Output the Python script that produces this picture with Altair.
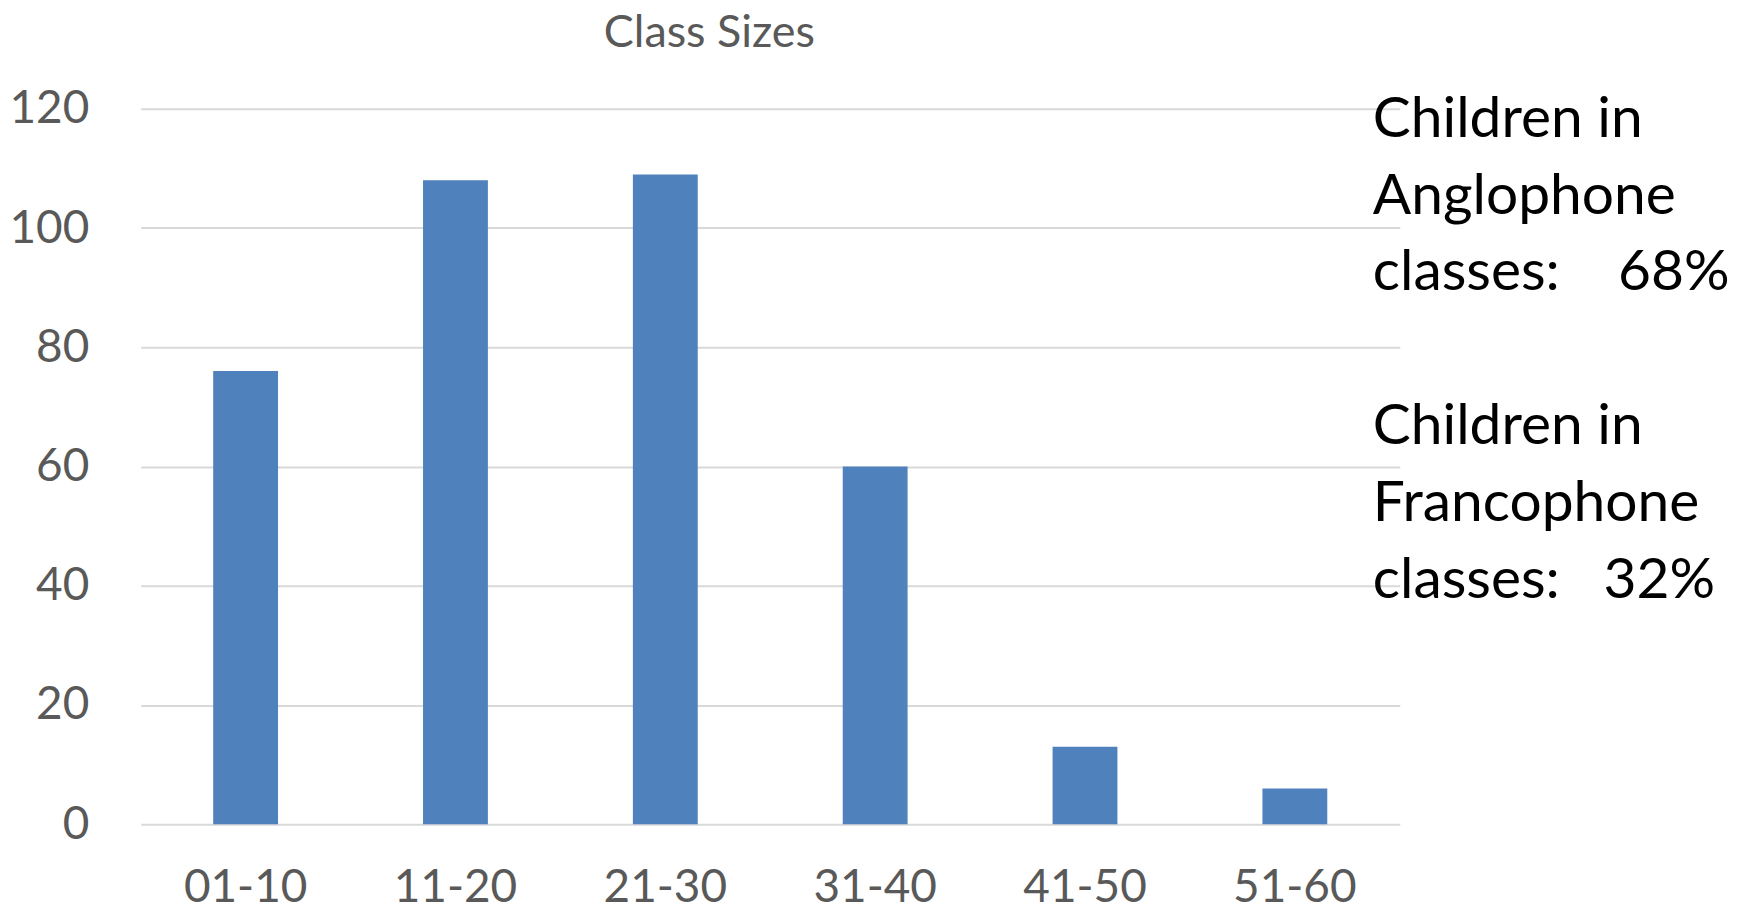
import altair as alt
import pandas as pd

categories = ["01-10", "11-20", "21-30", "31-40", "41-50", "51-60"]
counts = [76, 108, 109, 60, 13, 6]
y_ticks = [0, 20, 40, 60, 80, 100, 120]
title_text = "Class Sizes"
note_anglo = ["Children in", "Anglophone", "classes:\u00a0\u00a0\u00a0\u00a068%"]
note_franco = ["Children in", "Francophone", "classes:\u00a0\u00a0\u00a032%"]

df = pd.DataFrame({"cat": categories, "count": counts})

FONT = "Lato"
GRAY = "#595959"

bars = alt.Chart(df).mark_bar(color="#4f81bd", size=65).encode(
    x=alt.X("cat:N", sort=categories,
            scale=alt.Scale(paddingInner=0, paddingOuter=0),
            axis=alt.Axis(title=None, labelAngle=0, domain=False, ticks=False, tickSize=0,
                          labelFont=FONT, labelFontSize=46, labelColor=GRAY,
                          labelPadding=42, grid=False)),
    y=alt.Y("count:Q", scale=alt.Scale(domain=[0, 120], nice=False),
            axis=alt.Axis(title=None, values=y_ticks, domain=False, ticks=False, tickSize=0,
                          labelFont=FONT, labelFontSize=46, labelColor=GRAY,
                          labelPadding=52, grid=True, gridColor="#d9d9d9", gridWidth=2)),
)

title_mark = alt.Chart(df.head(1)).mark_text(
    text=title_text, font=FONT, fontSize=45, color=GRAY, align="center",
    baseline="alphabetic"
).encode(x=alt.value(570), y=alt.value(-62))

note1 = alt.Chart(df.head(1)).mark_text(
    text=note_anglo, font=FONT, fontSize=57, color="#000000", align="left",
    baseline="alphabetic", lineHeight=77
).encode(x=alt.value(1235), y=alt.value(28))

note2 = alt.Chart(df.head(1)).mark_text(
    text=note_franco, font=FONT, fontSize=57, color="#000000", align="left",
    baseline="alphabetic", lineHeight=77
).encode(x=alt.value(1235), y=alt.value(336))

chart = alt.layer(bars, title_mark, note1, note2).properties(
    width=1262, height=717,
    autosize=alt.AutoSizeParams(type="none"),
    padding={"left": 133, "top": 100, "right": 335, "bottom": 91},
).configure_view(stroke=None)

chart.save("out.html", embed_options={"renderer": "svg", "actions": False})
